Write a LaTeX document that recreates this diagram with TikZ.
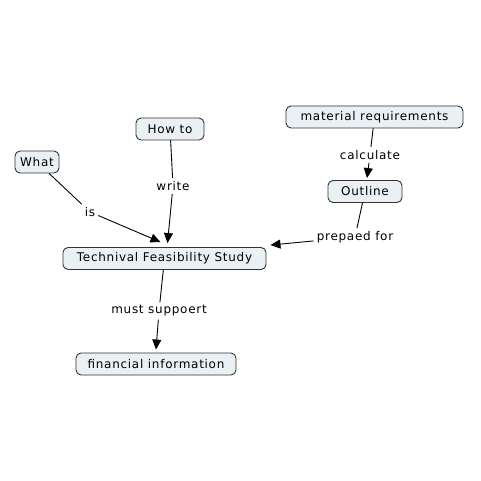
\documentclass[tikz,border=0pt]{standalone}
\usepackage{fontspec}
\setmainfont{DejaVu Sans}[LetterSpace=6]
\usetikzlibrary{arrows.meta}
\definecolor{boxfill}{HTML}{EAF1F4}
\definecolor{boxline}{HTML}{333333}
\tikzset{
  concept/.style={draw=boxline, line width=0.9pt, fill=boxfill, rounded corners=5pt,
    inner sep=0pt, minimum height=22pt, font=\fontsize{12}{14}\selectfont},
  linklabel/.style={inner sep=3pt, font=\fontsize{12}{14}\selectfont},
  conn/.style={line width=0.9pt, black},
  arr/.style={conn, -{Triangle[length=10pt,width=9pt]}}
}
\begin{document}
\begin{tikzpicture}[x=1pt,y=-1pt]
\useasboundingbox (0,0) rectangle (481,481);
\fill[white] (0,0) rectangle (481,481);
% concepts
\node[concept, minimum width=44pt] (what) at (37,162) {What};
\node[concept, minimum width=68pt] (howto) at (170,129) {How to};
\node[concept, minimum width=177pt] (mat) at (374.5,117) {material requirements};
\node[concept, minimum width=74pt] (outline) at (365,191.5) {Outline};
\node[concept, minimum width=203pt] (tfs) at (164.5,258.5) {Technival Feasibility Study};
\node[concept, minimum width=160pt] (fin) at (156,364) {financial information};
% link labels
\node[linklabel] (is) at (90,212) {is};
\node[linklabel] (write) at (173,186) {write};
\node[linklabel] (calc) at (370,155) {calculate};
\node[linklabel] (prep) at (355,237) {prepaed for};
\node[linklabel] (must) at (159,311) {must suppoert};
% target points
\coordinate (tisA) at ([xshift=-4pt,yshift=5pt]tfs.north);
\coordinate (twrite) at ([xshift=3pt,yshift=4pt]tfs.north);
\coordinate (tprep) at ([xshift=4pt,yshift=2pt]tfs.north east);
\coordinate (tfin) at ([yshift=3pt]fin.north);
\coordinate (tout) at ([xshift=2pt,yshift=2pt]outline.north);
% connectors
\draw[conn] (what) -- (is);
\draw[arr] (is) -- (tisA);
\draw[conn] (howto) -- (write);
\draw[arr] (write) -- (twrite);
\draw[conn] (mat) -- (calc);
\draw[arr] (calc) -- (tout);
\draw[conn] (outline) -- (prep);
\draw[arr] (prep) -- (tprep);
\draw[conn] (tfs) -- (must);
\draw[arr] (must) -- (tfin);
\end{tikzpicture}
\end{document}
